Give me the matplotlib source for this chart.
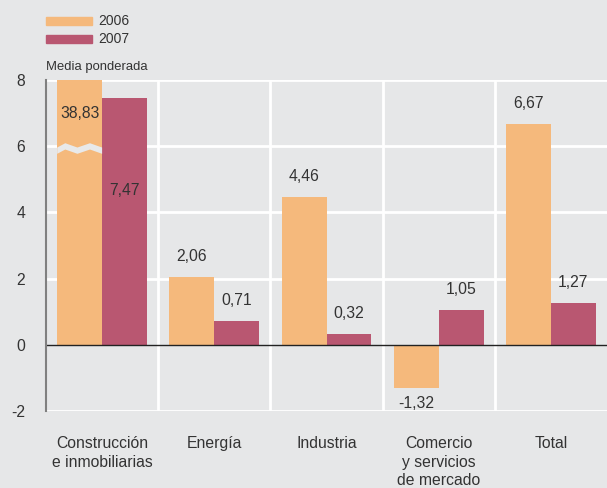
import matplotlib
matplotlib.use("Agg")
import matplotlib.pyplot as plt
from matplotlib.patches import Polygon, Rectangle
import numpy as np

categories = ["Construcción\ne inmobiliarias", "Energía", "Industria",
              "Comercio\ny servicios\nde mercado", "Total"]
v2006 = [38.83, 2.06, 4.46, -1.32, 6.67]
v2007 = [7.47, 0.71, 0.32, 1.05, 1.27]
labels2006 = ["38,83", "2,06", "4,46", "-1,32", "6,67"]
labels2007 = ["7,47", "0,71", "0,32", "1,05", "1,27"]
yticks = [-2, 0, 2, 4, 6, 8]
series_names = ["2006", "2007"]

C06 = "#f5b97c"
C07 = "#b95771"
BG = "#e6e7e8"
TXT = "#333333"
YMAX = 8
YMIN = -2
FS = 11.3

plt.rcParams['font.family'] = ['Liberation Sans', 'DejaVu Sans']

fig = plt.figure(figsize=(6.07, 4.88), dpi=100, facecolor=BG)
ax = fig.add_axes([46/607, 77/488, 1 - 46/607, (411-80)/488])
ax.set_facecolor(BG)

x = np.arange(len(categories))
w = 0.4
clipped = [min(v, YMAX) for v in v2006]
ax.bar(x - w/2, clipped, w, color=C06, zorder=2)
ax.bar(x + w/2, v2007, w, color=C07, zorder=2)

# gridlines
for yv in yticks:
    if yv == 0:
        continue
    ax.axhline(yv, color="white", lw=2, zorder=1)
for xv in x[:-1] + 0.5:
    ax.axvline(xv, color="white", lw=2, zorder=1)
ax.axhline(0, color="#222222", lw=1, zorder=3)

# break marker on clipped bar(s)
for i, v in enumerate(v2006):
    if v > YMAX:
        left = x[i] - w
        px = np.array([0.0, 0.18, 0.45, 0.73, 1.0]) * w + left
        py_top = np.array([5.96, 6.09, 5.96, 6.09, 5.96])
        th = 0.19
        pts = list(zip(px, py_top)) + list(zip(px[::-1], py_top[::-1] - th))
        ax.add_patch(Polygon(pts, closed=True, color="#e8e9ea", lw=0, zorder=2.5))

# value labels
for i in range(len(categories)):
    v = v2006[i]
    if v > YMAX:
        ax.text(x[i] - w/2, 7.0, labels2006[i], ha="center", va="center",
                fontsize=FS, color=TXT, zorder=4)
    elif v >= 0:
        ax.text(x[i] - w/2, v + 0.62, labels2006[i], ha="center", va="center",
                fontsize=FS, color=TXT, zorder=4)
    else:
        ax.text(x[i] - w/2, v - 0.45, labels2006[i], ha="center", va="center",
                fontsize=FS, color=TXT, zorder=4)
    v = v2007[i]
    if v > 7:
        ax.text(x[i] + w/2, 4.65, labels2007[i], ha="center", va="center",
                fontsize=FS, color=TXT, zorder=4)
    else:
        ax.text(x[i] + w/2, v + 0.62, labels2007[i], ha="center", va="center",
                fontsize=FS, color=TXT, zorder=4)

ax.set_xlim(-0.5, len(categories) - 0.5)
ax.set_ylim(YMIN, YMAX)
ax.set_yticks(yticks)
ax.set_yticklabels([str(t) for t in yticks], fontsize=FS, color=TXT)
ax.set_xticks(x)
ax.set_xticklabels(categories, fontsize=FS, color=TXT, linespacing=1.3, va="top")
ax.tick_params(axis="both", length=0)
ax.tick_params(axis="y", pad=15)
ax.tick_params(axis="x", pad=18)
for s in ["top", "right", "bottom"]:
    ax.spines[s].set_visible(False)
ax.spines["left"].set_color("#808080")
ax.spines["left"].set_linewidth(1.5)
ax.spines["left"].set_zorder(5)

# legend
for j, (name, col) in enumerate(zip(series_names, [C06, C07])):
    y0 = 17 + j * 18
    fig.patches.append(Rectangle((46/607, 1 - (y0 + 8)/488), 46/607, 8/488,
                                 transform=fig.transFigure, color=col, figure=fig))
    fig.text(98/607, 1 - (y0 + 4)/488, name, fontsize=10, color=TXT,
             va="center", ha="left")

fig.text(46/607, 1 - 67/488, "Media ponderada", fontsize=9.4, color=TXT,
         va="center", ha="left")

fig.savefig("out.png", dpi=100, facecolor=BG)
